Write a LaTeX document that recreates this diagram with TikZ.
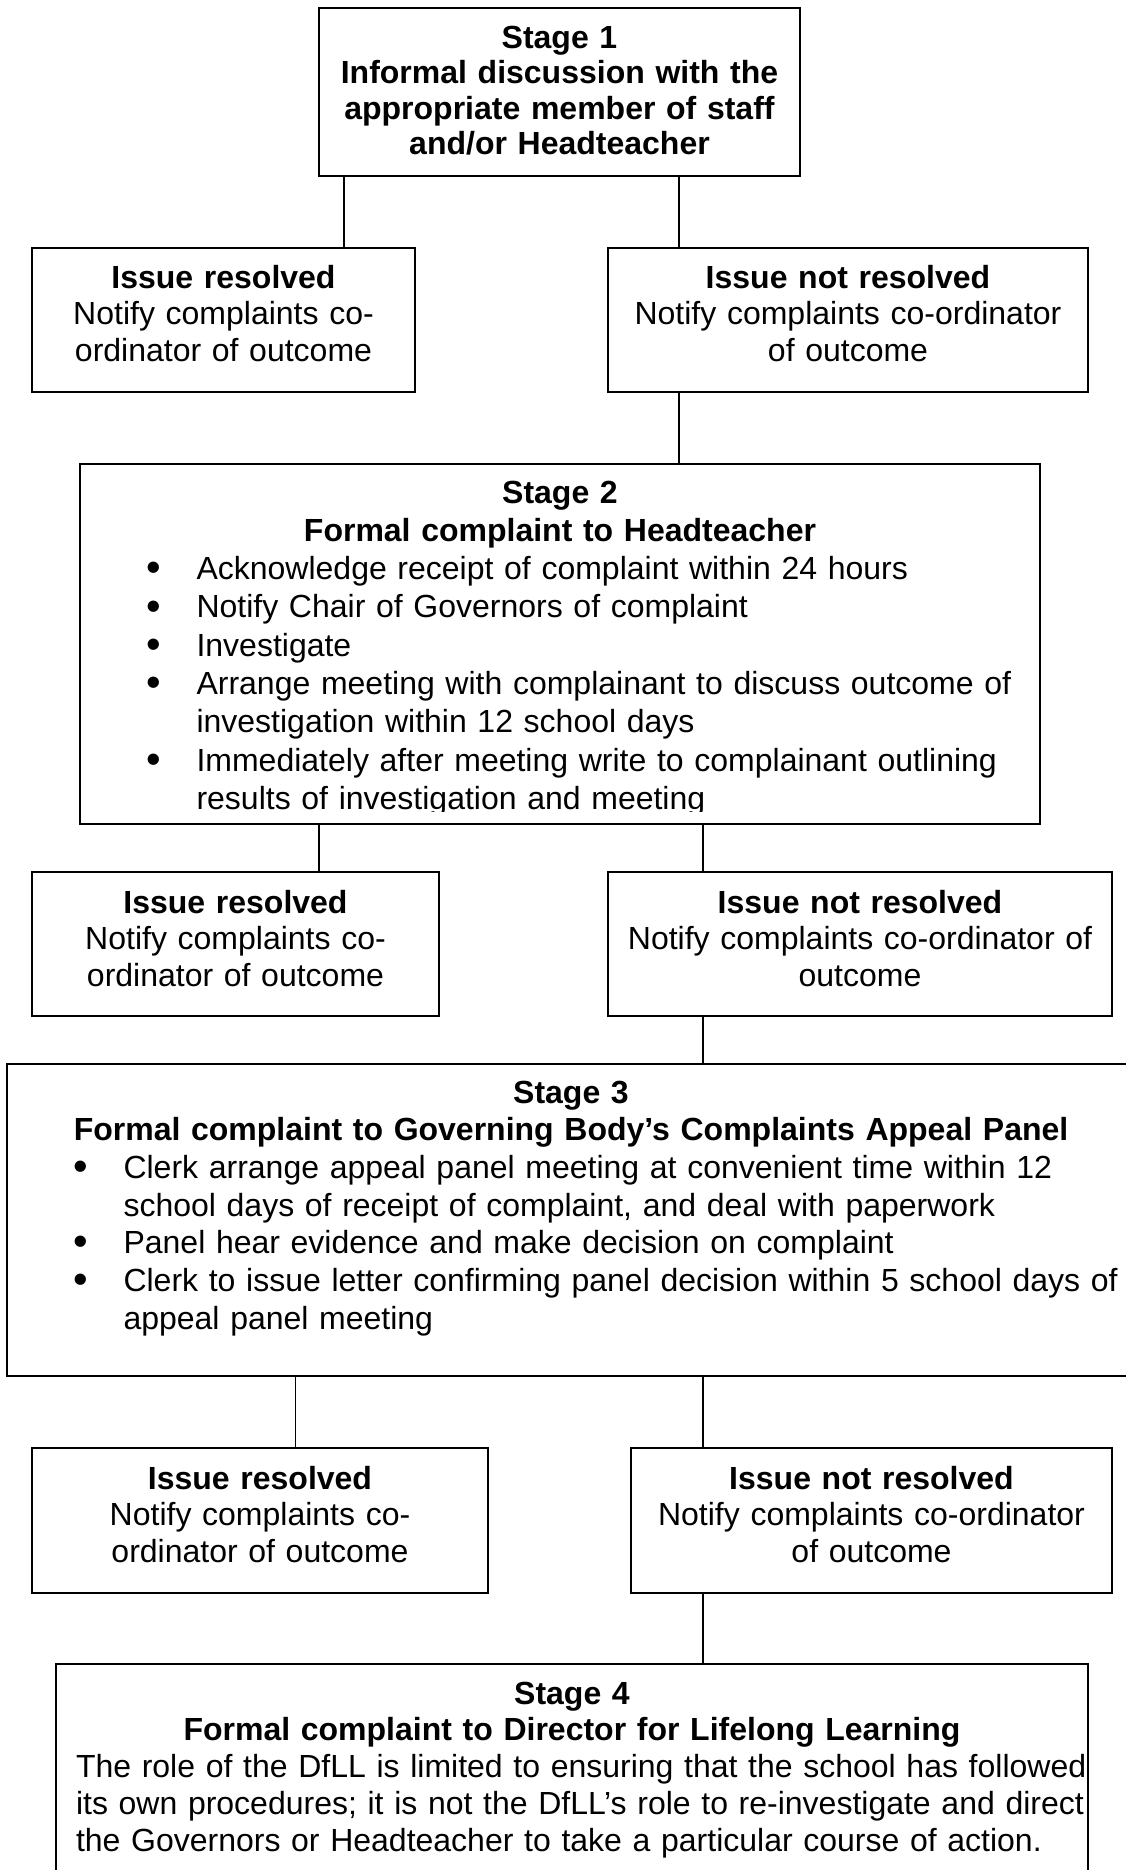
\documentclass[tikz,border=0pt]{standalone}
\usepackage{graphicx}
\usepackage{fontspec}
\setmainfont{Liberation Sans}

\newcommand{\bdot}{\raisebox{-0.8pt}{\scalebox{1.3}{\textbullet}}}
\newcommand{\bitem}[1]{\makebox[\linewidth][l]{\hspace*{21.9pt}\makebox[18.8pt][l]{\bdot}#1}}
\newcommand{\bmore}[1]{\makebox[\linewidth][l]{\hspace*{40.7pt}#1}}
\newcommand{\jline}[1]{\makebox[\linewidth][s]{#1}}
\newcommand{\lline}[1]{\makebox[\linewidth][l]{#1}}

\tikzset{
  stagebox/.style={draw, line width=0.75pt, anchor=north, align=center, inner xsep=3pt, inner ysep=0pt},
  lead/.style={font=\fontsize{12pt}{#1}\selectfont},
  link/.style={line width=0.5pt},
}

\begin{document}
\begin{tikzpicture}[x=0.375pt, y=-0.375pt]
    \path[use as bounding box, fill=white] (0,0) rectangle (1125,1870);

    \node[stagebox, lead=13.35pt, text width=174.375pt, text height=15pt, text depth=48pt] (s1) at (559.5,7)
      {\textbf{Stage 1}\\ \textbf{Informal discussion with the}\\ \textbf{appropriate member of staff}\\ \textbf{and/or Headteacher}};

    \node[stagebox, lead=13.69pt, text width=137.625pt, text height=15pt, text depth=39pt] (ir1) at (223.5,247)
      {\textbf{Issue resolved}\\ Notify complaints co-\\ ordinator of outcome};
    \node[stagebox, lead=13.69pt, text width=174pt, text height=15pt, text depth=39pt] (nr1) at (848,247)
      {\textbf{Issue not resolved}\\ Notify complaints co-ordinator\\ of outcome};

    \node[stagebox, lead=14.36pt, text width=354pt, text height=14.625pt, text depth=120.375pt] (s2) at (560,463)
      {\textbf{Stage 2}\\
       \textbf{Formal complaint to Headteacher}\\
       \bitem{Acknowledge receipt of complaint within 24 hours}\\
       \bitem{Notify Chair of Governors of complaint}\\
       \bitem{Investigate}\\
       \bitem{Arrange meeting with complainant to discuss outcome of}\\
       \bmore{investigation within 12 school days}\\
       \bitem{Immediately after meeting write to complainant outlining}\\
       \bmore{results of investigation and meeting}};
    \fill[white] (81.2,811.5) rectangle (1038.8,821.8);

    \node[stagebox, lead=13.69pt, text width=146.625pt, text height=15.375pt, text depth=38.625pt] (ir2) at (235.5,871)
      {\textbf{Issue resolved}\\ Notify complaints co-\\ ordinator of outcome};
    \node[stagebox, lead=13.69pt, text width=183pt, text height=15.375pt, text depth=38.625pt] (nr2) at (860,871)
      {\textbf{Issue not resolved}\\ Notify complaints co-ordinator of\\ outcome};

    \node[stagebox, lead=14.14pt, text width=417pt, text height=14.625pt, text depth=102.375pt] (s3) at (571,1063)
      {\textbf{Stage 3}\\
       \textbf{Formal complaint to Governing Body’s Complaints Appeal Panel}\\
       \bitem{Clerk arrange appeal panel meeting at convenient time within 12}\\
       \bmore{school days of receipt of complaint, and deal with paperwork}\\
       \bitem{Panel hear evidence and make decision on complaint}\\
       \bitem{Clerk to issue letter confirming panel decision within 5 school days of}\\
       \bmore{appeal panel meeting}};

    \node[stagebox, lead=13.69pt, text width=165pt, text height=15.375pt, text depth=39pt] (ir3) at (260,1447)
      {\textbf{Issue resolved}\\ Notify complaints co-\\ ordinator of outcome};
    \node[stagebox, lead=13.69pt, text width=174.375pt, text height=15.375pt, text depth=39pt] (nr3) at (871.5,1447)
      {\textbf{Issue not resolved}\\ Notify complaints co-ordinator\\ of outcome};

    \node[stagebox, lead=13.8pt, inner xsep=7.5pt, text width=372pt, text height=15pt, text depth=70.125pt] (s4) at (572,1663)
      {\textbf{Stage 4}\\
       \textbf{Formal complaint to Director for Lifelong Learning}\\
       \jline{The role of the DfLL is limited to ensuring that the school has followed}\\
       \jline{its own procedures; it is not the DfLL’s role to re-investigate and direct}\\
       \lline{the Governors or Headteacher to take a particular course of action.}};

    \coordinate (k1) at (344,0);
    \coordinate (k2) at (679,0);
    \coordinate (k3) at (319,0);
    \coordinate (k4) at (703,0);
    \coordinate (k5) at (295.5,0);

    \draw[link] (s1.south -| k1) -- (ir1.north -| k1);
    \draw[link] (s1.south -| k2) -- (nr1.north -| k2);
    \draw[link] (nr1.south -| k2) -- (s2.north -| k2);
    \draw[link] (s2.south -| k3) -- (ir2.north -| k3);
    \draw[link] (s2.south -| k4) -- (nr2.north -| k4);
    \draw[link] (nr2.south -| k4) -- (s3.north -| k4);
    \draw[link] (s3.south -| k5) -- (ir3.north -| k5);
    \draw[link] (s3.south -| k4) -- (nr3.north -| k4);
    \draw[link] (nr3.south -| k4) -- (s4.north -| k4);
\end{tikzpicture}
\end{document}
